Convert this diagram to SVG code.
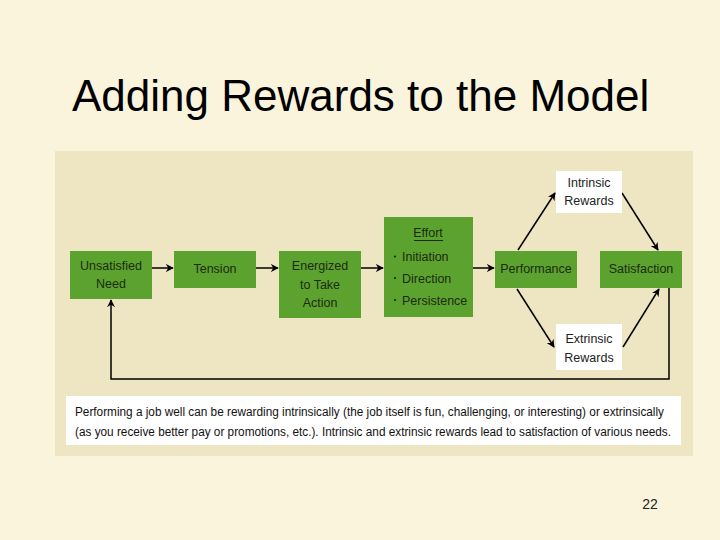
<svg xmlns="http://www.w3.org/2000/svg" width="720" height="540" viewBox="0 0 720 540">
<defs>
<marker id="ah" viewBox="0 0 10 10" refX="9" refY="5" markerWidth="8" markerHeight="8" markerUnits="userSpaceOnUse" orient="auto">
<path d="M0,0 L10,5 L0,10 L3,5 z" fill="#000"/>
</marker>
<style>
.g{fill:#5CA22E}
.w{fill:#FFFFFF}
.t{font-family:"Liberation Sans",Arial,sans-serif;font-size:12.5px;fill:#1E2A12;text-anchor:middle}
.tw{font-family:"Liberation Sans",Arial,sans-serif;font-size:12.5px;fill:#222;text-anchor:middle}
.c{stroke:#000;stroke-width:1.5;fill:none;marker-end:url(#ah)}
.cap{font-family:"Liberation Sans",Arial,sans-serif;font-size:12.5px;fill:#111}
</style>
</defs>
<rect x="0" y="0" width="720" height="540" fill="#F9F4DB"/>
<rect x="55" y="151" width="638" height="305" fill="#EEE5C3"/>
<text x="72" y="111" font-family="'Liberation Sans',Arial,sans-serif" font-size="44" fill="#000">Adding Rewards to the Model</text>

<g id="connectors">
<line class="c" x1="152" y1="268" x2="173" y2="268"/>
<line class="c" x1="256" y1="268" x2="278" y2="268"/>
<line class="c" x1="361" y1="268" x2="383" y2="268"/>
<line class="c" x1="473" y1="268" x2="494" y2="268"/>
<line class="c" x1="518" y1="250" x2="555" y2="193"/>
<line class="c" x1="622" y1="193" x2="658" y2="250"/>
<line class="c" x1="517" y1="289" x2="554" y2="347"/>
<line class="c" x1="623" y1="347" x2="659" y2="289"/>
<path class="c" d="M669,288 V379 H111 V300"/>
</g>

<g id="unsatisfied">
<rect class="g" x="70" y="251" width="82" height="48"/>
<text class="t" x="111" y="269.5">Unsatisfied</text>
<text class="t" x="111" y="288">Need</text>
</g>
<g id="tension">
<rect class="g" x="174" y="251" width="82" height="37"/>
<text class="t" x="215" y="272.5">Tension</text>
</g>
<g id="energized">
<rect class="g" x="279" y="251" width="82" height="67"/>
<text class="t" x="320" y="270">Energized</text>
<text class="t" x="320" y="288.5">to Take</text>
<text class="t" x="320" y="307">Action</text>
</g>
<g id="effort">
<rect class="g" x="384" y="217" width="89" height="100"/>
<text class="t" x="428" y="237">Effort</text>
<line x1="414" y1="240.5" x2="443" y2="240.5" stroke="#1E2A12" stroke-width="1"/>
<text class="t" x="402" y="261" style="text-anchor:start">Initiation</text>
<text class="t" x="402" y="282.5" style="text-anchor:start">Direction</text>
<text class="t" x="402" y="304.5" style="text-anchor:start">Persistence</text>
<circle cx="395" cy="256.5" r="1.1" fill="#1E2A12"/>
<circle cx="395" cy="278" r="1.1" fill="#1E2A12"/>
<circle cx="395" cy="300" r="1.1" fill="#1E2A12"/>
</g>
<g id="performance">
<rect class="g" x="495" y="251" width="82" height="37"/>
<text class="t" x="536" y="272.5">Performance</text>
</g>
<g id="satisfaction">
<rect class="g" x="600" y="251" width="82" height="37"/>
<text class="t" x="641" y="272.5">Satisfaction</text>
</g>
<g id="intrinsic">
<rect class="w" x="556" y="171" width="66" height="42"/>
<text class="tw" x="589" y="186.5">Intrinsic</text>
<text class="tw" x="589" y="205">Rewards</text>
</g>
<g id="extrinsic">
<rect class="w" x="556" y="324" width="66" height="46"/>
<text class="tw" x="589" y="342.5">Extrinsic</text>
<text class="tw" x="589" y="361.5">Rewards</text>
</g>
<g id="caption">
<rect class="w" x="66" y="396" width="615" height="49"/>
<text class="cap" x="75" y="415.5" textLength="589" lengthAdjust="spacingAndGlyphs">Performing a job well can be rewarding intrinsically (the job itself is fun, challenging, or interesting) or extrinsically</text>
<text class="cap" x="75" y="435.5" textLength="596" lengthAdjust="spacingAndGlyphs">(as you receive better pay or promotions, etc.). Intrinsic and extrinsic rewards lead to satisfaction of various needs.</text>
</g>
<text x="650" y="509" font-family="'Liberation Sans',Arial,sans-serif" font-size="14" fill="#222" text-anchor="middle">22</text>
</svg>
